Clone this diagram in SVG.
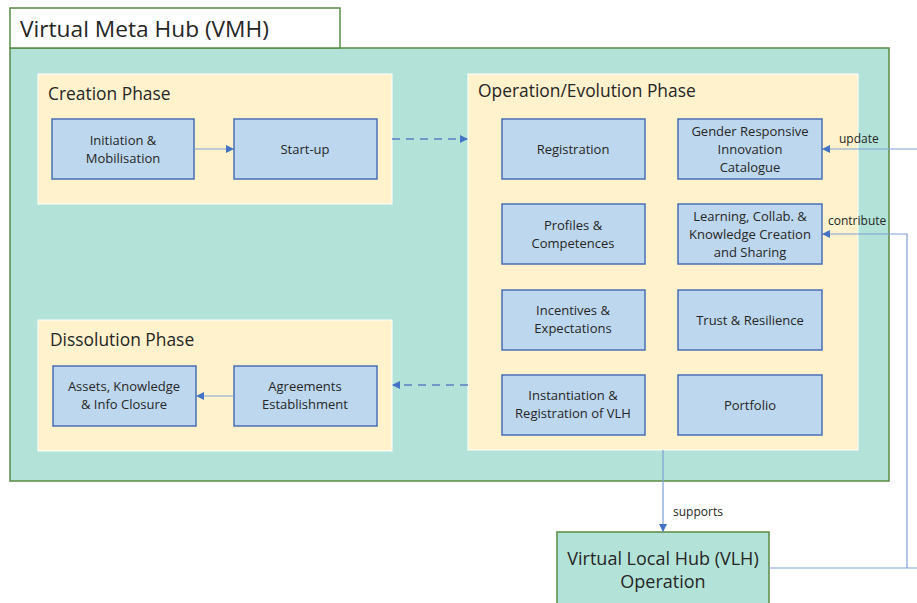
<svg xmlns="http://www.w3.org/2000/svg" width="917" height="603" viewBox="0 0 917 603">
<defs>
<style>
text{font-family:"Open Sans","Liberation Sans",sans-serif;fill:#262626}
.hub{fill:#b3e3d8;stroke:#5b8a45;stroke-width:1.5}
.phase{fill:#fff2cc;stroke:#ffffff;stroke-width:1}
.box{fill:#bdd7ee;stroke:#4a6fb5;stroke-width:1.5}
.bt{font-size:13px;text-anchor:middle}
.pt{font-size:17.4px}
.ln{fill:none;stroke:#7f9fd6;stroke-width:1.2}
.dash{fill:none;stroke:#5b7fc4;stroke-width:1.5;stroke-dasharray:8,6}
.lbl{font-size:12px}
</style>
<marker id="ah" markerWidth="8" markerHeight="8" refX="7" refY="4" orient="auto" markerUnits="userSpaceOnUse">
<path d="M0,0 L8,4 L0,8 z" fill="#4472c4"/>
</marker>
</defs>
<rect width="917" height="603" fill="#ffffff"/>
<g id="vmh">
<rect x="10" y="48" width="879" height="433" class="hub"/>
<rect x="10" y="8" width="330" height="40" fill="#ffffff" stroke="#5b8a45" stroke-width="1.5"/>
<text x="20" y="37" font-size="22.7">Virtual Meta Hub (VMH)</text>
</g>
<g id="creation">
<rect x="38" y="74" width="354" height="130" class="phase"/>
<text x="48" y="100" class="pt">Creation Phase</text>
</g>
<g id="initiation"><rect x="52" y="119" width="142" height="60" class="box"/><text x="123" y="145" class="bt">Initiation &amp;</text><text x="123" y="163" class="bt">Mobilisation</text></g>
<g id="startup"><rect x="234" y="119" width="143" height="60" class="box"/><text x="305" y="154" class="bt">Start-up</text></g>
<g id="dissolution">
<rect x="38" y="320" width="354" height="131" class="phase"/>
<text x="50" y="346" class="pt">Dissolution Phase</text>
</g>
<g id="assets"><rect x="53" y="366" width="143" height="60" class="box"/><text x="124" y="391" class="bt">Assets, Knowledge</text><text x="124" y="409" class="bt">&amp; Info Closure</text></g>
<g id="agreements"><rect x="234" y="366" width="143" height="60" class="box"/><text x="305" y="391" class="bt">Agreements</text><text x="305" y="409" class="bt">Establishment</text></g>
<g id="operation">
<rect x="468" y="74" width="390" height="376" class="phase"/>
<text x="478" y="97" class="pt">Operation/Evolution Phase</text>
</g>
<g id="registration"><rect x="502" y="119" width="143" height="60" class="box"/><text x="573" y="154" class="bt">Registration</text></g>
<g id="gender"><rect x="678" y="119" width="144" height="60" class="box"/><text x="750" y="136" class="bt">Gender Responsive</text><text x="750" y="154" class="bt">Innovation</text><text x="750" y="172" class="bt">Catalogue</text></g>
<g id="profiles"><rect x="502" y="204" width="143" height="60" class="box"/><text x="573" y="230" class="bt">Profiles &amp;</text><text x="573" y="248" class="bt">Competences</text></g>
<g id="learning"><rect x="678" y="204" width="144" height="60" class="box"/><text x="750" y="221" class="bt">Learning, Collab. &amp;</text><text x="750" y="239" class="bt">Knowledge Creation</text><text x="750" y="257" class="bt">and Sharing</text></g>
<g id="incentives"><rect x="502" y="290" width="143" height="60" class="box"/><text x="573" y="315" class="bt">Incentives &amp;</text><text x="573" y="333" class="bt">Expectations</text></g>
<g id="trust"><rect x="678" y="290" width="144" height="60" class="box"/><text x="750" y="325" class="bt">Trust &amp; Resilience</text></g>
<g id="instantiation"><rect x="502" y="375" width="143" height="60" class="box"/><text x="573" y="400" class="bt">Instantiation &amp;</text><text x="573" y="418" class="bt">Registration of VLH</text></g>
<g id="portfolio"><rect x="678" y="375" width="144" height="60" class="box"/><text x="750" y="410" class="bt">Portfolio</text></g>
<g id="vlh"><rect x="557" y="532" width="212" height="80" class="hub"/><text x="663" y="565" font-size="18" text-anchor="middle">Virtual Local Hub (VLH)</text><text x="663" y="588" font-size="18" text-anchor="middle">Operation</text></g>
<g id="connectors">
<line x1="194" y1="149" x2="233" y2="149" class="ln" marker-end="url(#ah)"/>
<line x1="234" y1="396" x2="197" y2="396" class="ln" marker-end="url(#ah)"/>
<line x1="392" y1="139" x2="467" y2="139" class="dash" marker-end="url(#ah)"/>
<line x1="468" y1="385" x2="393" y2="385" class="dash" marker-end="url(#ah)"/>
<line x1="663" y1="450" x2="663" y2="531" class="ln" marker-end="url(#ah)"/>
<text x="673" y="516" class="lbl">supports</text>
<line x1="917" y1="149" x2="823" y2="149" class="ln" marker-end="url(#ah)"/>
<text x="839" y="143" class="lbl">update</text>
<polyline points="769,568 917,568" class="ln"/>
<polyline points="907,568 907,234 823,234" class="ln" marker-end="url(#ah)"/>
<text x="828" y="225" class="lbl">contribute</text>
</g>
</svg>
